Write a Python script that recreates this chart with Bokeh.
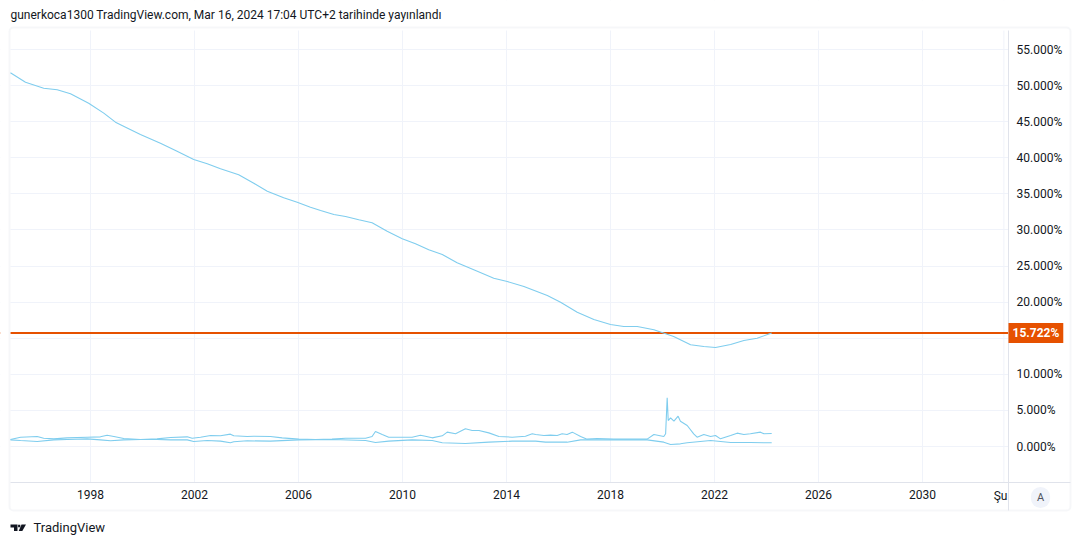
from bokeh.plotting import figure
from bokeh.models import (Range1d, FixedTicker, Span, Label, CustomJSTickFormatter,
                          BoxAnnotation, PolyAnnotation)
from bokeh.embed import file_html
from bokeh.resources import INLINE

TITLE = "gunerkoca1300 TradingView.com, Mar 16, 2024 17:04 UTC+2 tarihinde yayınlandı"
FOOTER = "TradingView"

years_main = [1994.92, 1995.50, 1996.20, 1996.72, 1997.23, 1997.93, 1998.51, 1998.96, 1999.35, 1999.92,
              2000.69, 2001.33, 2001.97, 2002.49, 2003.00, 2003.70, 2004.28, 2004.80, 2005.43, 2005.95,
              2006.46, 2006.85, 2007.36, 2007.81, 2008.32, 2008.83, 2009.41, 2009.99, 2010.50, 2011.01,
              2011.53, 2012.10, 2012.81, 2013.51, 2014.03, 2014.67, 2015.57, 2016.08, 2016.72, 2017.36,
              2018.00, 2018.51, 2019.03, 2019.67, 2020.43, 2021.08, 2021.59, 2022.04, 2022.62, 2023.13,
              2023.64, 2024.20]
pct_main = [51.77, 50.47, 49.64, 49.42, 48.86, 47.56, 46.18, 44.93, 44.24, 43.23,
            42.02, 40.91, 39.76, 39.17, 38.47, 37.64, 36.48, 35.37, 34.46, 33.85,
            33.15, 32.70, 32.14, 31.86, 31.41, 30.99, 29.83, 28.78, 28.08, 27.25,
            26.60, 25.45, 24.38, 23.32, 22.86, 22.17, 20.92, 19.99, 18.61, 17.59,
            16.90, 16.63, 16.63, 16.17, 15.24, 14.09, 13.85, 13.72, 14.13, 14.69,
            15.00, 15.722]

years_upper = [1994.92, 1995.31, 1995.95, 1996.20, 1996.59, 1997.10, 1997.87, 1998.38, 1998.64, 1998.90,
               1999.28, 1999.92, 2000.56, 2001.08, 2001.72, 2001.91, 2002.23, 2002.62, 2003.00, 2003.38,
               2003.51, 2004.03, 2004.28, 2004.92, 2005.37, 2006.01, 2006.65, 2007.29, 2007.81, 2008.58,
               2008.83, 2008.96, 2009.22, 2009.47, 2009.99, 2010.37, 2010.69, 2010.88, 2011.14, 2011.53,
               2011.72, 2012.04, 2012.42, 2012.68, 2012.94, 2013.32, 2013.71, 2014.22, 2014.73, 2014.99,
               2015.12, 2015.44, 2015.69, 2015.95, 2016.14, 2016.33, 2016.53, 2016.85, 2017.10, 2017.49,
               2018.13, 2018.77, 2019.41, 2019.67, 2020.05, 2020.12, 2020.18, 2020.22, 2020.31, 2020.44,
               2020.60, 2020.69, 2020.95, 2021.20, 2021.33, 2021.59, 2021.85, 2022.04, 2022.23, 2022.62,
               2022.87, 2023.13, 2023.38, 2023.77, 2023.90, 2024.20]
pct_upper = [0.97, 1.29, 1.39, 1.15, 1.06, 1.20, 1.29, 1.34, 1.57, 1.39,
             1.11, 0.97, 1.06, 1.25, 1.34, 1.15, 1.29, 1.52, 1.48, 1.71,
             1.48, 1.39, 1.43, 1.39, 1.20, 1.02, 0.97, 1.02, 1.15, 1.15,
             1.39, 2.08, 1.66, 1.29, 1.29, 1.29, 1.57, 1.43, 1.20, 1.48,
             1.99, 1.76, 2.45, 2.22, 2.22, 1.89, 1.39, 1.29, 1.43, 1.76,
             1.66, 1.52, 1.57, 1.52, 1.76, 1.66, 1.99, 1.39, 1.02, 1.11,
             1.02, 1.02, 1.02, 1.66, 1.39, 1.76, 6.74, 3.60, 3.97, 3.51,
             4.20, 3.51, 2.91, 1.76, 1.29, 1.66, 1.39, 1.52, 1.06, 1.52,
             1.85, 1.66, 1.76, 1.99, 1.76, 1.80]

years_lower = [1994.92, 1995.31, 1995.95, 1996.59, 1997.10, 1997.87, 1998.38, 1998.77, 1999.28, 1999.92,
               2000.56, 2001.08, 2001.72, 2001.97, 2002.49, 2003.00, 2003.38, 2003.51, 2004.03, 2004.92,
               2006.01, 2007.29, 2008.58, 2008.96, 2009.47, 2010.37, 2011.14, 2011.53, 2012.42, 2013.32,
               2014.22, 2015.12, 2015.50, 2016.33, 2016.85, 2017.49, 2018.77, 2019.41, 2020.05, 2020.31,
               2020.69, 2020.95, 2021.85, 2022.62, 2023.38, 2024.20]
pct_lower = [0.92, 0.83, 0.69, 0.92, 0.97, 1.06, 0.92, 0.79, 0.92, 0.97,
             0.97, 0.92, 0.92, 0.69, 0.83, 0.74, 0.51, 0.65, 0.79, 0.74,
             0.92, 0.97, 0.83, 0.55, 0.74, 0.92, 0.83, 0.51, 0.42, 0.60,
             0.74, 0.74, 0.60, 0.60, 0.92, 0.92, 0.92, 0.92, 0.60, 0.28,
             0.37, 0.51, 0.83, 0.55, 0.55, 0.51]

last_value = 15.722
x_ticks = [1998, 2002, 2006, 2010, 2014, 2018, 2022, 2026, 2030]
y_ticks = [0, 5, 10, 15, 20, 25, 30, 35, 40, 45, 50, 55]
extra_tick = 2033.13
extra_tick_label = "Şu"

FONT = "Roboto"
TXT = "#131722"
GRID = "#f0f3fa"
BORDER = "#e0e3eb"
LINE = "#7fcdee"
ORANGE = "#e65100"

W, H = 1080, 545
# page pixel -> data unit helpers (layout only)
PX_YEAR = 26.0
PX_PCT = 397.0 / 55.0
def X(px):
    return 1998 + (px - 90) / PX_YEAR
def Y(py):
    return (446 - py) / PX_PCT

PL, PR, PT, PB = 10, 1008, 30, 482      # plot area edges
OL, OR, OT, OB = 9, 1070, 27, 510       # outer frame edges

p = figure(frame_width=W, frame_height=H, output_backend="svg", toolbar_location=None,
           x_range=Range1d(X(0), X(W)), y_range=Range1d(Y(H), Y(0)),
           y_axis_location="right", min_border=0)
p.background_fill_color = "white"
p.border_fill_color = "white"
p.outline_line_color = None

# axes drawn at fixed positions inside the canvas
p.yaxis.fixed_location = X(PR)
p.yaxis.bounds = (Y(OB), Y(PT))
p.xaxis.fixed_location = Y(PB)
p.xaxis.bounds = (X(PL), X(OR))
p.yaxis.ticker = FixedTicker(ticks=y_ticks)
p.yaxis.formatter = CustomJSTickFormatter(code="return tick.toFixed(3) + '%';")
p.xaxis.ticker = FixedTicker(ticks=x_ticks)
p.xaxis.formatter = CustomJSTickFormatter(code="return tick.toFixed(0);")
for ax in (p.xaxis[0], p.yaxis[0]):
    ax.axis_line_color = BORDER
    ax.axis_line_width = 1
    ax.major_tick_line_color = None
    ax.minor_tick_line_color = None
    ax.major_tick_out = 0
    ax.major_tick_in = 0
    ax.minor_tick_out = 0
    ax.minor_tick_in = 0
    ax.major_label_text_font = FONT
    ax.major_label_text_font_size = "12px"
    ax.major_label_text_color = TXT
p.yaxis.major_label_standoff = 8
p.xaxis.major_label_standoff = 7

p.xgrid.ticker = FixedTicker(ticks=x_ticks)
p.ygrid.ticker = FixedTicker(ticks=y_ticks)
p.xgrid.grid_line_color = GRID
p.ygrid.grid_line_color = GRID
p.xgrid.level = "image"
p.ygrid.level = "image"
p.add_layout(Span(location=extra_tick, dimension="height", line_color=GRID, line_width=1, level="image"))
p.add_layout(Span(location=last_value, dimension="width", line_color=ORANGE, line_width=2, level="image"))

# white margins around the plot area (hide grid outside it)
for kw in (dict(bottom=Y(PT)), dict(top=Y(PB)), dict(right=X(PL)), dict(left=X(PR))):
    p.add_layout(BoxAnnotation(fill_color="white", fill_alpha=1, line_color=None, level="underlay", **kw))

# series
p.line(years_lower, pct_lower, line_color=LINE, line_width=1.1)
p.line(years_upper, pct_upper, line_color=LINE, line_width=1.1)
p.line(years_main, pct_main, line_color=LINE, line_width=1.1)

# outer frame
p.add_layout(BoxAnnotation(left=X(OL), right=X(OR), top=Y(OT), bottom=Y(OB),
                           fill_alpha=0, line_color=BORDER, line_width=2, border_radius=4,
                           level="annotation"))

# last value tag
p.add_layout(Label(x=X(PR), y=last_value, text=f"{last_value:.3f}%", text_color="white",
                   text_font=FONT, text_font_size="12px", text_font_style="bold",
                   text_baseline="middle", text_align="left",
                   background_fill_color=ORANGE, padding=(4, 3)))

# clipped month label at the right of the time axis
p.add_layout(Label(x=X(1000), y=Y(495), text=extra_tick_label, text_color=TXT, text_font=FONT,
                   text_font_size="12px", text_align="center", text_baseline="middle"))

# auto-scale button
p.add_layout(Label(x=X(1040), y=Y(497), text="A", text_color="#50535e", text_font=FONT,
                   text_font_size="11px", text_align="center", text_baseline="middle",
                   background_fill_color="#f0f3fa", border_radius=10, padding=(6, 4)))

# title and footer
p.add_layout(Label(x=X(10), y=Y(14), text=TITLE, text_color=TXT, text_font=FONT,
                   text_font_size="12px", text_baseline="middle"))
p.add_layout(Label(x=X(33), y=Y(527), text=FOOTER, text_color=TXT, text_font=FONT,
                   text_font_size="13px", text_baseline="middle"))

# TradingView logo mark
p.add_layout(PolyAnnotation(xs=[X(10), X(17), X(17), X(13.5), X(13.5), X(10)],
                            ys=[Y(524), Y(524), Y(530.5), Y(530.5), Y(527), Y(527)],
                            fill_color=TXT, fill_alpha=1, line_color=None))
p.add_layout(PolyAnnotation(xs=[X(21), X(25.5), X(21.8), X(18.2)],
                            ys=[Y(524), Y(524), Y(530.5), Y(530.5)],
                            fill_color=TXT, fill_alpha=1, line_color=None))
p.add_layout(PolyAnnotation(xs=[X(17.6), X(19.8), X(19.8), X(17.6)],
                            ys=[Y(524.3), Y(524.3), Y(526.8), Y(526.8)],
                            fill_color=TXT, fill_alpha=1, line_color=None))

open("out.html", "w").write(file_html(p, INLINE))
